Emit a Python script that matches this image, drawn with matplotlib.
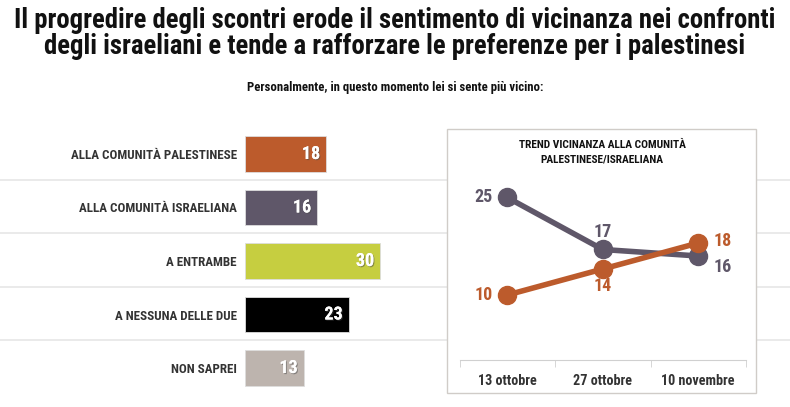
import matplotlib.pyplot as plt
import matplotlib.patheffects as pe
from matplotlib.lines import Line2D
from matplotlib.patches import Rectangle
from matplotlib import font_manager

# data
categories = ['ALLA COMUNITÀ PALESTINESE', 'ALLA COMUNITÀ ISRAELIANA', 'A ENTRAMBE',
              'A NESSUNA DELLE DUE', 'NON SAPREI']
values = [18, 16, 30, 23, 13]
bar_colors = ['#BC5B2C', '#5F5769', '#C6CE40', '#000000', '#BDB4AE']

dates = ['13 ottobre', '27 ottobre', '10 novembre']
palestinese = [10, 14, 18]
israeliana = [25, 17, 16]

names = {f.name for f in font_manager.fontManager.ttflist}
fam = 'DejaVu Sans'
for cand in ['Roboto Condensed', 'Open Sans Condensed', 'Liberation Sans Narrow', 'Lato']:
    if cand in names:
        fam = cand
        break
plt.rcParams['font.family'] = [fam, 'DejaVu Sans']
plt.rcParams['font.weight'] = 'bold'

W, H = 790, 407
fig = plt.figure(figsize=(W / 100, H / 100), dpi=100)

def fx(px):
    return px / W

def fy(py):
    return 1 - py / H

fig.text(0.5, fy(20), 'Il progredire degli scontri erode il sentimento di vicinanza nei confronti',
         ha='center', va='center', fontsize=19.3, fontweight='bold', color='#111111')
fig.text(0.5, fy(47), 'degli israeliani e tende a rafforzare le preferenze per i palestinesi',
         ha='center', va='center', fontsize=19.3, fontweight='bold', color='#111111')
fig.text(0.5, fy(88), 'Personalmente, in questo momento lei si sente più vicino:',
         ha='center', va='center', fontsize=9.2, fontweight='bold', color='#111111')

# separator lines
for py in [180, 233, 287, 340]:
    fig.add_artist(Line2D([0, 1], [fy(py), fy(py)], color='#E6E6E6', lw=1.2, zorder=0))

# bar chart
px_unit = 4.5
ax = fig.add_axes([fx(245), fy(394.75), fx(200), (394.75 - 127.25) / H])
ax.set_xlim(0, 200 / px_unit)
ax.set_ylim(4.5, -0.5)
ypos = list(range(len(categories)))
ax.barh(ypos, values, height=0.67, color=bar_colors, edgecolor='#DDDDDD', linewidth=0.6)
shadow = [pe.withSimplePatchShadow(offset=(0.8, -0.8), alpha=0.5), pe.Normal()]
for y, v in zip(ypos, values):
    ax.text(v - 1.3, y, str(v), ha='right', va='center', color='white', fontsize=13,
            fontweight='bold', path_effects=shadow)
ax.set_yticks(ypos)
ax.set_yticklabels(categories, fontsize=9.4, fontweight='bold', color='#333333')
ax.tick_params(axis='y', length=0, pad=6)
ax.set_xticks([])
for s in ax.spines.values():
    s.set_visible(False)
ax.patch.set_alpha(0)

# inset box
fig.add_artist(Rectangle((fx(447), fy(393)), fx(756 - 447), (393 - 129) / H,
                         facecolor='white', edgecolor='#D0CCC8', lw=1, zorder=1))
fig.text(fx(602), fy(145), 'TREND VICINANZA ALLA COMUNITÀ', ha='center', va='center',
         fontsize=8.2, fontweight='bold', color='#111111', zorder=3)
fig.text(fx(602), fy(159), 'PALESTINESE/ISRAELIANA', ha='center', va='center',
         fontsize=8.2, fontweight='bold', color='#111111', zorder=3)

# line chart
top_px = 175
ax2 = fig.add_axes([fx(459.5), fy(360), fx(746 - 459.5), (360 - top_px) / H], zorder=2)
ax2.set_xlim(-0.5, 2.5)
ax2.set_ylim(0, (360 - top_px) / 6.5)
ax2.patch.set_alpha(0)
x = list(range(len(dates)))
ax2.plot(x, israeliana, color='#5F5769', lw=4, marker='o', ms=13, zorder=3)
ax2.plot(x, palestinese, color='#BC5B2C', lw=4, marker='o', ms=13, zorder=4)

offs_isr = [(-24, 0), (0, 17), (24, -11)]
offs_pal = [(-24, 0), (0, -17), (24, 2)]
for xi, v, (dx, dy) in zip(x, israeliana, offs_isr):
    ax2.annotate(str(v), (xi, v), xytext=(dx, dy), textcoords='offset pixels', ha='center',
                 va='center', fontsize=13, fontweight='bold', color='#5F5769')
for xi, v, (dx, dy) in zip(x, palestinese, offs_pal):
    ax2.annotate(str(v), (xi, v), xytext=(dx, dy), textcoords='offset pixels', ha='center',
                 va='center', fontsize=13, fontweight='bold', color='#BC5B2C')

ax2.set_xticks(x)
ax2.set_xticklabels(dates, fontsize=10.2, fontweight='bold', color='#333333')
ax2.set_xticks([-0.5, 0.5, 1.5, 2.5], minor=True)
ax2.tick_params(axis='x', which='major', length=0, pad=10)
ax2.tick_params(axis='x', which='minor', length=5, color='#D0D0D0', direction='out')
ax2.set_yticks([])
for k in ['top', 'left', 'right']:
    ax2.spines[k].set_visible(False)
ax2.spines['bottom'].set_color('#D0D0D0')

fig.savefig('out.png', dpi=100)
